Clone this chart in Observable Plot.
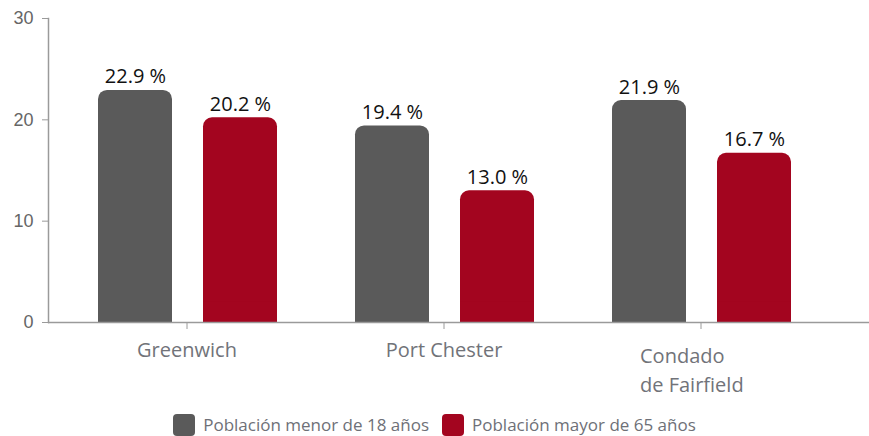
<!DOCTYPE html>
<html><head><meta charset="utf-8">
<script src="https://cdn.jsdelivr.net/npm/d3@7"></script>
<script src="https://cdn.jsdelivr.net/npm/@observablehq/plot@0.6"></script>
<style>
body{margin:0;background:#fff;}
#legend{display:flex;justify-content:center;align-items:center;font-family:"Open Sans",sans-serif;font-size:17px;color:#6e7077;padding-top:13px;height:23px;}
.item{display:flex;align-items:center;}
.sw{width:22px;height:22px;border-radius:4px;margin-right:8px;}
</style></head><body><div id="chart"></div><div id="legend"></div>
<script>
const groups = ["Greenwich", "Port Chester", "Condado de Fairfield"];
const groupLabels = ["Greenwich", "Port Chester", "Condado\nde Fairfield"];
const seriesNames = ["Población menor de 18 años", "Población mayor de 65 años"];
const menor18 = [22.9, 19.4, 21.9];
const mayor65 = [20.2, 13.0, 16.7];
const colors = ["#5a5a5a", "#a3051f"];
const yTicks = [0, 10, 20, 30];

const rowsA = groups.map((g, i) => ({group: g, value: menor18[i]}));
const rowsB = groups.map((g, i) => ({group: g, value: mayor65[i]}));
const labelRows = groups.map((g, i) => ({group: g, label: groupLabels[i]}));
const single = labelRows.filter(d => !d.label.includes("\n"));
const multi = labelRows.filter(d => d.label.includes("\n"));

const posA = {insetLeft: 40, insetRight: 143};
const posB = {insetLeft: 145, insetRight: 38};

const chart = Plot.plot({
  width: 869, height: 400,
  marginTop: 18, marginBottom: 78, marginLeft: 48, marginRight: 0,
  style: {fontFamily: "'Open Sans', sans-serif", background: "#fff"},
  x: {domain: groups, range: [57.5, 828.5], padding: 0},
  y: {domain: [0, 30]},
  marks: [
    Plot.barY(rowsA, {x: "group", y: "value", fill: colors[0], rx: 9, ...posA}),
    Plot.barY(rowsA, {x: "group", y1: 0, y2: d => Math.min(d.value, 2), fill: colors[0], ...posA}),
    Plot.barY(rowsB, {x: "group", y: "value", fill: colors[1], rx: 9, ...posB}),
    Plot.barY(rowsB, {x: "group", y1: 0, y2: d => Math.min(d.value, 2), fill: colors[1], ...posB}),
    Plot.text(rowsA, {x: "group", y: "value", text: d => d.value.toFixed(1) + " %", dx: -51.5, dy: -7, lineAnchor: "bottom", fontSize: 20, fill: "#111"}),
    Plot.text(rowsB, {x: "group", y: "value", text: d => d.value.toFixed(1) + " %", dx: 53.5, dy: -7, lineAnchor: "bottom", fontSize: 20, fill: "#111"}),
    Plot.ruleY([0], {stroke: "#9a9a9a", strokeWidth: 1.5}),
    Plot.frame({anchor: "left", stroke: "#9a9a9a", strokeWidth: 1.5}),
    Plot.axisY({ticks: yTicks, label: null, tickSize: 6, tickPadding: 9, fontSize: 18, fontFamily: "'Liberation Sans', Arial, sans-serif", stroke: "#9a9a9a", fill: "#666"}),
    Plot.axisX({label: null, tickSize: 7, tickFormat: () => "", stroke: "#9a9a9a"}),
    Plot.text(single, {x: "group", text: "label", frameAnchor: "bottom", lineAnchor: "top", dy: 20, fontSize: 20, fill: "#717379"}),
    Plot.text(multi, {x: "group", text: "label", frameAnchor: "bottom", lineAnchor: "top", dy: 20, dx: -61, textAnchor: "start", lineHeight: 1.45, fontSize: 20, fill: "#717379"})
  ]
});
document.getElementById("chart").append(chart);

const legend = document.getElementById("legend");
seriesNames.forEach((name, i) => {
  const it = document.createElement("div");
  it.className = "item";
  if (i > 0) it.style.marginLeft = "13px";
  const sw = document.createElement("div");
  sw.className = "sw";
  sw.style.background = colors[i];
  const t = document.createElement("span");
  t.textContent = name;
  it.append(sw, t);
  legend.append(it);
});
</script></body></html>
